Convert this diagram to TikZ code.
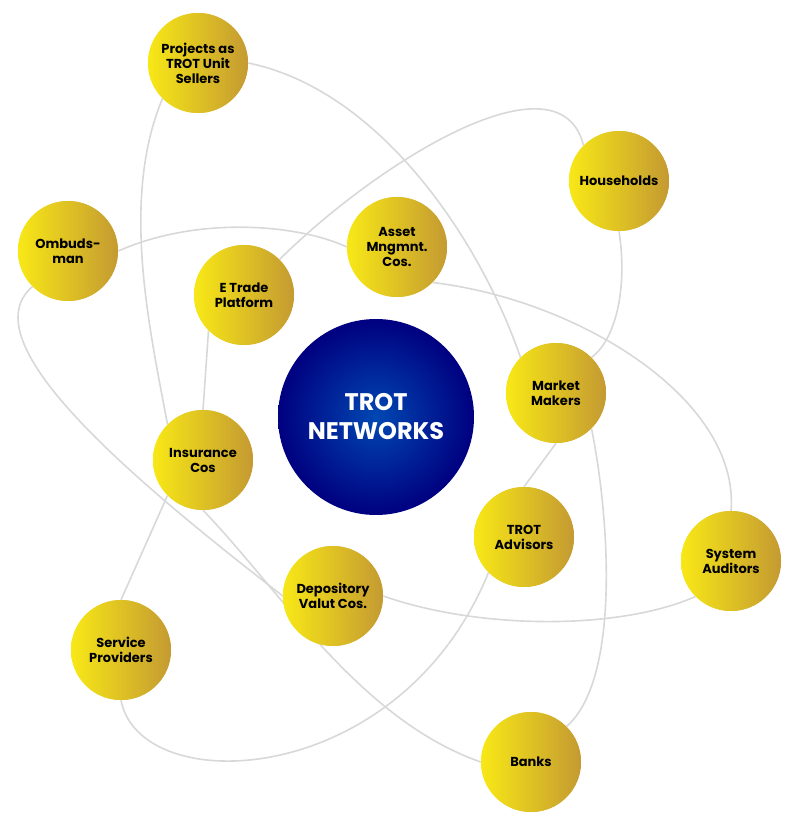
\documentclass[tikz,border=0pt]{standalone}
\usepackage{fontspec}
\setmainfont{Poppins}
\usetikzlibrary{shadings}
\definecolor{ylw}{HTML}{F8E816}
\definecolor{gld}{HTML}{C49A32}
\definecolor{lnk}{HTML}{D8D8D8}
\begin{document}
\begin{tikzpicture}[x=1pt,y=-1pt,
  ball/.style={circle,minimum size=100pt,inner sep=0pt,left color=ylw,right color=gld,
    font=\bfseries\fontsize{13}{15}\selectfont,align=center,text=black},
  lk/.style={draw=lnk,line width=1.6pt}]
\useasboundingbox (0,0) rectangle (796,826);
% links first
\node[ball] (proj) at (198,63) {Projects as\\TROT Unit\\Sellers};
\node[ball] (hh) at (619,181) {Households};
\node[ball] (omb) at (68,251) {Ombuds-\\man};
\node[ball] (amc) at (397,247) {Asset\\Mngmnt.\\Cos.};
\node[ball] (etp) at (244,295) {E Trade\\Platform};
\node[ball] (mm) at (556,393) {Market\\Makers};
\node[ball] (ins) at (203,460) {Insurance\\Cos};
\node[ball] (adv) at (524,537) {TROT\\Advisors};
\node[ball] (sa) at (731,561) {System\\Auditors};
\node[ball] (dep) at (333,596) {Depository\\Valut Cos.};
\node[ball] (sp) at (121,650) {Service\\Providers};
\node[ball] (bk) at (531,762) {Banks};
\begin{scope}[on background layer/.try]
\end{scope}
\path[lk] (proj.east) .. controls (380,90) and (480,240) .. (mm.north west);
\path[lk] (proj.south west) .. controls (120,200) and (150,330) .. (ins.north west);
\path[lk] (etp.north east) .. controls (380,160) and (560,50) .. (hh.north west);
\path[lk] (hh.south) .. controls (628,290) and (615,340) .. (mm.north east);
\path[lk] (omb.east) .. controls (200,215) and (300,225) .. (amc.west);
\path[lk] (omb.south west) .. controls (-30,340) and (120,470) .. (dep.west);
\path[lk] (amc.south east) .. controls (580,300) and (740,400) .. (sa.north);
\path[lk] (etp.south west) -- (ins.north);
\path[lk] (ins.south west) -- (sp.north);
\path[lk] (ins.south) .. controls (280,590) and (360,720) .. (bk.west);
\path[lk] (dep.east) .. controls (480,630) and (620,630) .. (sa.south west);
\path[lk] (mm.south) -- (adv.north);
\path[lk] (mm.south east) .. controls (610,520) and (620,680) .. (bk.north east);
\path[lk] (sp.south) .. controls (140,800) and (400,790) .. (adv.south west);
% redraw balls on top
\foreach \n/\p/\t in {proj/{198,63}/{Projects as\\TROT Unit\\Sellers},hh/{619,181}/Households,omb/{68,251}/{Ombuds-\\man},amc/{397,247}/{Asset\\Mngmnt.\\Cos.},etp/{244,295}/{E Trade\\Platform},mm/{556,393}/{Market\\Makers},ins/{203,460}/{Insurance\\Cos},adv/{524,537}/{TROT\\Advisors},sa/{731,561}/{System\\Auditors},dep/{333,596}/{Depository\\Valut Cos.},sp/{121,650}/{Service\\Providers},bk/{531,762}/Banks}
  \node[ball] (\n b) at (\p) {\t};
\node[circle,minimum size=196pt,inner sep=0pt,inner color=blue!60!cyan!70!black,outer color=blue!50!black,
  text=white,font=\bfseries\fontsize{24}{29}\selectfont,align=center] (ctr) at (376,417) {TROT\\NETWORKS};
\end{tikzpicture}
\end{document}
